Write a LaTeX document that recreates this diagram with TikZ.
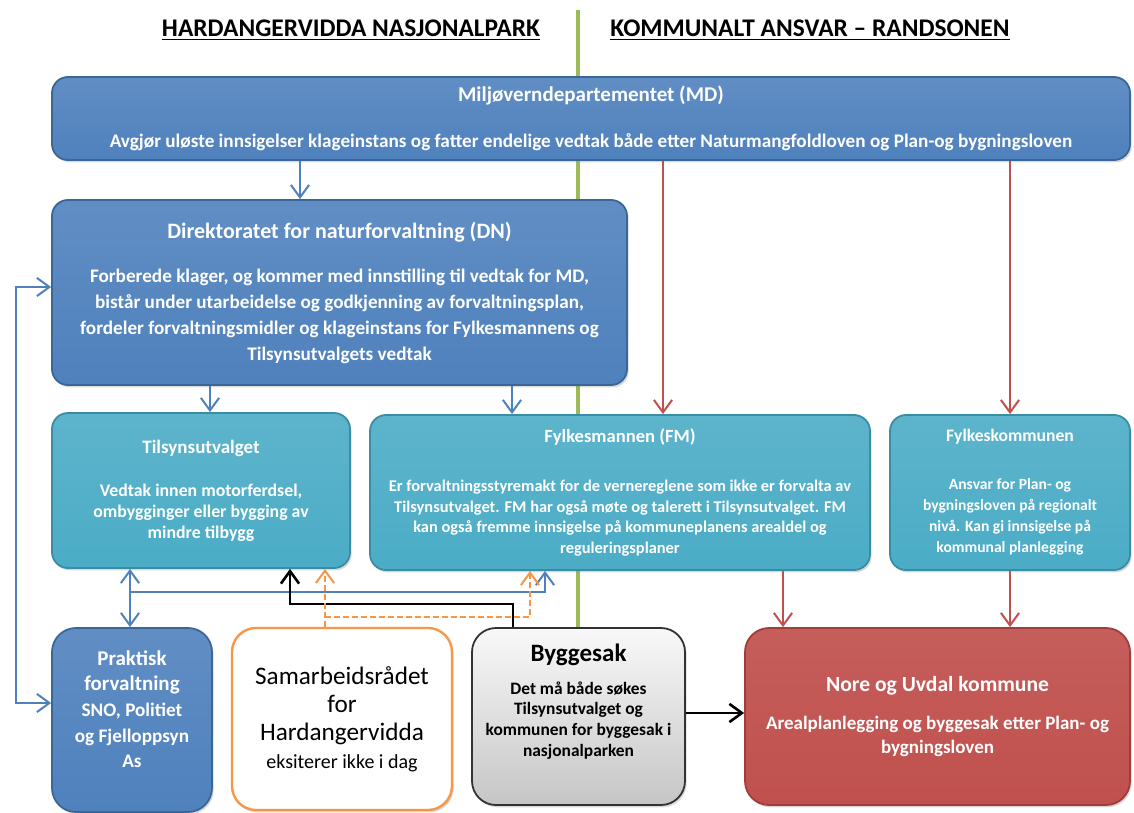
\documentclass[tikz,border=0pt]{standalone}
\usepackage{fontspec}
\setmainfont{Carlito}
\usetikzlibrary{arrows.meta,positioning,shadows}

\definecolor{mdblue}{HTML}{4F81BD}
\definecolor{mdedge}{HTML}{3B6698}
\definecolor{aqua}{HTML}{4BACC6}
\definecolor{aquaedge}{HTML}{3A8DA4}
\definecolor{kred}{HTML}{C0504D}
\definecolor{krededge}{HTML}{9E3D3A}
\definecolor{orng}{HTML}{F79646}
\definecolor{lgreen}{HTML}{9BBB59}

\begin{document}
\begin{tikzpicture}[
  x=0.5pt, y=-0.5pt,
  box/.style={draw, rounded corners=8pt, align=center, text=white, line width=0.9pt,
    font=\bfseries\fontsize{9.6}{13}\selectfont,
    drop shadow={opacity=0.3, shadow xshift=0.8pt, shadow yshift=-1.2pt}},
  bluebox/.style={box, draw=mdedge, top color=mdblue!90!white, bottom color=mdblue},
  aquabox/.style={box, draw=aquaedge, top color=aqua!90!white, bottom color=aqua},
  redbox/.style={box, draw=krededge, top color=kred!92!white, bottom color=kred},
  head/.style={font=\bfseries\fontsize{12.7}{15}\selectfont},
  arrow/.style={-{Straight Barb[length=2.2mm, width=3.2mm]}, line width=1pt},
  both arrow/.style={{Straight Barb[length=2.2mm, width=3.2mm]}-{Straight Barb[length=2.2mm, width=3.2mm]}, line width=1pt},
  blue arrow/.style={arrow, draw=mdblue},
  red arrow/.style={arrow, draw=kred},
  black arrow/.style={arrow, draw=black, line width=1.3pt},
  orange arrow/.style={arrow, draw=orng, dashed, dash pattern=on 3pt off 1.5pt}
]
\useasboundingbox (0,0) rectangle (1134,813);
\draw[lgreen, line width=1.8pt] (578,10) -- (578,630);

\node[head] (hnp) at (351,30) {\underline{HARDANGERVIDDA NASJONALPARK}};
\node[head] (hks) at (810,30) {\underline{KOMMUNALT ANSVAR – RANDSONEN}};

\node[bluebox, minimum width=539pt, minimum height=41.5pt] (md) at (591,118.5)
  {{\fontsize{10.5}{12}\selectfont Miljøverndepartementet (MD)}\\[10pt]
   Avgjør uløste innsigelser klageinstans og fatter endelige vedtak både etter Naturmangfoldloven og Plan-og bygningsloven};
\node[bluebox, minimum width=287.5pt, minimum height=92.5pt] (dn) at (339.5,292.5)
  {{\fontsize{11}{13}\selectfont Direktoratet for naturforvaltning (DN)}\\[9pt]
   Forberede klager, og kommer med innstilling til vedtak for MD,\\
   bistår under utarbeidelse og godkjenning av forvaltningsplan,\\
   fordeler forvaltningsmidler og klageinstans for Fylkesmannens og\\
   Tilsynsutvalgets vedtak};
\node[aquabox, minimum width=149pt, minimum height=77.5pt,
  font=\bfseries\fontsize{8.9}{10.5}\selectfont] (tilsyn) at (201,490.5)
  {{\fontsize{9.5}{11}\selectfont Tilsynsutvalget}\\[11pt]
   Vedtak innen motorferdsel,\\
   ombygginger eller bygging av\\
   mindre tilbygg};
\node[aquabox, minimum width=250pt, minimum height=77.5pt,
  font=\bfseries\fontsize{8.2}{10.4}\selectfont] (fm) at (620,492.5)
  {{\fontsize{9.3}{11}\selectfont Fylkesmannen (FM)}\\[14pt]
   Er forvaltningsstyremakt for de vernereglene som ikke er forvalta av\\
   Tilsynsutvalget. FM har også møte og talerett i Tilsynsutvalget. FM\\
   kan også fremme innsigelse på kommuneplanens arealdel og\\
   reguleringsplaner};
\node[aquabox, minimum width=120pt, minimum height=77.5pt,
  font=\bfseries\fontsize{7.8}{10.6}\selectfont] (fk) at (1010,492.5)
  {{\fontsize{8.8}{11}\selectfont Fylkeskommunen}\\[13pt]
   Ansvar for Plan- og\\
   bygningsloven på regionalt\\
   nivå. Kan gi innsigelse på\\
   kommunal planlegging};

\node[bluebox, rounded corners=12pt, minimum width=80pt, minimum height=92pt,
  font=\bfseries\fontsize{9.6}{12.8}\selectfont] (praktisk) at (132,720)
  {{\fontsize{10.5}{13}\selectfont Praktisk}\\
   {\fontsize{10.5}{13}\selectfont forvaltning}\\
   SNO, Politiet\\
   og Fjelloppsyn\\
   As\\[-2pt]};
\node[box, rounded corners=12pt, draw=orng, fill=white, text=black, line width=1.2pt,
  minimum width=110pt, minimum height=91pt,
  font=\fontsize{12.6}{14}\selectfont] (samrad) at (342,719)
  {Samarbeidsrådet\\ for\\ Hardangervidda\\
   {\fontsize{10}{14}\selectfont eksiterer ikke i dag}};
\node[box, rounded corners=12pt, draw=black!80, top color=gray!5, bottom color=gray!45,
  text=black, minimum width=106.5pt, minimum height=88.5pt,
  font=\bfseries\fontsize{8.7}{10.4}\selectfont] (byggesak) at (578.5,716.5)
  {{\fontsize{12.5}{14}\selectfont Byggesak}\\[6pt]
   Det må både søkes\\
   Tilsynsutvalget og\\
   kommunen for byggesak i\\
   nasjonalparken\\[6pt]};
\node[redbox, rounded corners=12pt, minimum width=192.5pt, minimum height=88.5pt,
  font=\bfseries\fontsize{9.5}{12}\selectfont] (nore) at (937.5,716.5)
  {{\fontsize{10.8}{13}\selectfont Nore og Uvdal kommune}\\[7pt]
   Arealplanlegging og byggesak etter Plan- og\\
   bygningsloven};

\draw[blue arrow] (md.south -| 300,0) -- (dn.north -| 300,0);
\draw[red arrow] (md.south -| 663,0) -- (fm.north -| 663,0);
\draw[red arrow] (md.south -| fk.north) -- (fk.north);
\draw[blue arrow] (dn.south -| 210,0) -- (tilsyn.north -| 210,0);
\draw[blue arrow] (dn.south -| 512,0) -- (fm.north -| 512,0);
\draw[red arrow] (fm.south -| 783,0) -- (nore.north -| 783,0);
\draw[red arrow] (fk.south) -- (nore.north -| fk.south);

\coordinate (bjoin) at (130,592);
\draw[both arrow, draw=mdblue] (praktisk.west |- 0,703) -- (16,703) -- (16,287) -- (dn.west |- 0,287);
\draw[both arrow, draw=mdblue] (praktisk.north -| bjoin) -- (tilsyn.south -| bjoin);
\draw[blue arrow] (bjoin) -- (545,592) -- (fm.south -| 545,0);
\draw[black arrow] (byggesak.north -| 513,0) -- (513,604) -- (290,604) -- (tilsyn.south -| 290,0);
\coordinate (ojoin) at (325,617);
\draw[orange arrow] (samrad.north -| ojoin) -- (tilsyn.south -| ojoin);
\draw[orange arrow] (ojoin) -- (530,617) -- (fm.south -| 530,0);
\draw[black arrow] (byggesak.east |- 0,713) -- (nore.west |- 0,713);
\end{tikzpicture}
\end{document}
